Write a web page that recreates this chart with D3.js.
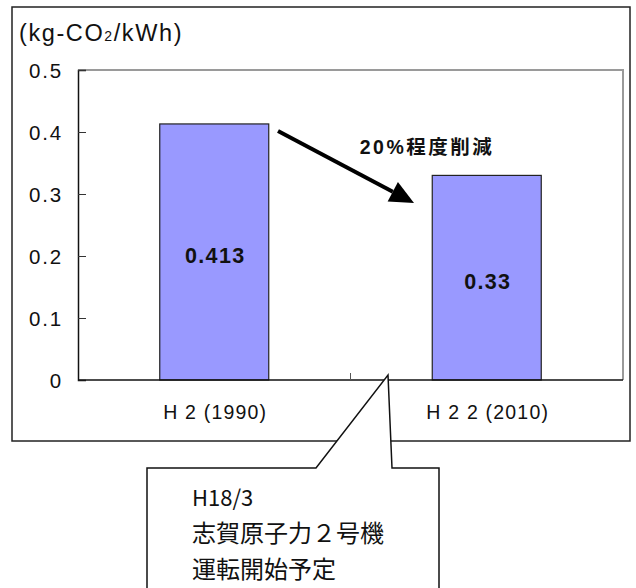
<!DOCTYPE html>
<html><head><meta charset="utf-8">
<script src="https://cdn.jsdelivr.net/npm/d3@7"></script>
<style>
html,body{margin:0;padding:0;background:#fff;}
svg{display:block;}
</style></head>
<body>
<svg id="c" width="636" height="588"></svg>
<script>
const categories = ["H 2 (1990)", "H 2 2 (2010)"];
const values = [0.413, 0.33];
const valueLabels = ["0.413", "0.33"];
const yTicks = [0, 0.1, 0.2, 0.3, 0.4, 0.5];
const yTickLabels = ["0", "0.1", "0.2", "0.3", "0.4", "0.5"];
const annotationText = "20%程度削減";
const calloutLines = ["H18/3", "志賀原子力２号機", "運転開始予定"];

const svg = d3.select("#c");
const L = 78, R = 623, T = 70, B = 380;
const latin = "'Liberation Sans', Arial, 'Noto Sans CJK JP', sans-serif";

// outer frame
svg.append("rect").attr("x", 12).attr("y", 7).attr("width", 618).attr("height", 434)
  .attr("fill", "#fff").attr("stroke", "#222").attr("stroke-width", 1.5);

// unit title
const title = svg.append("text").attr("x", 19).attr("y", 41)
  .attr("font-family", latin).attr("font-size", 23.5).attr("letter-spacing", 1.6).attr("fill", "#111");
title.append("tspan").text("(kg-CO");
title.append("tspan").attr("font-size", 14).text("2");
title.append("tspan").text("/kWh)");

const x = d3.scaleBand().domain(categories).range([L, R]).paddingInner(0.6).paddingOuter(0.3);
const xs = d3.scaleBand().domain(categories).range([L, R]);
const y = d3.scaleLinear().domain([0, 0.5]).range([B, T]);

// plot area border (gray top/right)
svg.append("path").attr("d", `M${L},${T}H${R}V${B}`).attr("fill", "none")
  .attr("stroke", "#9a9a9a").attr("stroke-width", 2);

// y axis
const yAxis = d3.axisLeft(y).tickValues(yTicks).tickSize(-8).tickPadding(14)
  .tickFormat((d, i) => yTickLabels[i]);
const gy = svg.append("g").attr("transform", `translate(${L},0)`).call(yAxis);
gy.select(".domain").attr("stroke", "#111").attr("stroke-width", 1.5);
gy.selectAll(".tick line").attr("stroke", "#333").attr("stroke-width", 1);
gy.selectAll(".tick text").attr("font-family", latin).attr("font-size", 20.5)
  .attr("letter-spacing", 1.8).attr("fill", "#111").attr("x", -15).attr("dy", "0.36em");

// bars
svg.selectAll("rect.bar").data(values).enter().append("rect").attr("class", "bar")
  .attr("x", (d, i) => x(categories[i])).attr("width", x.bandwidth())
  .attr("y", d => y(d)).attr("height", d => B - y(d))
  .attr("fill", "#9999ff").attr("stroke", "#222").attr("stroke-width", 1.2);

// x axis
const gx = svg.append("g").attr("transform", `translate(0,${B})`);
gx.append("line").attr("x1", L).attr("x2", R).attr("stroke", "#111").attr("stroke-width", 1.5);
gx.selectAll("line.sep").data(categories.slice(1)).enter().append("line").attr("class", "sep")
  .attr("x1", d => xs(d)).attr("x2", d => xs(d)).attr("y1", 0).attr("y2", -7)
  .attr("stroke", "#555").attr("stroke-width", 1);
gx.selectAll("text").data(categories).enter().append("text")
  .attr("x", d => xs(d) + xs.bandwidth() / 2 + 1).attr("y", 39)
  .attr("text-anchor", "middle").attr("font-family", latin).attr("font-size", 19.5)
  .attr("letter-spacing", 1.2).attr("fill", "#111").text(d => d);

// value labels
svg.selectAll("text.val").data(values).enter().append("text").attr("class", "val")
  .attr("x", (d, i) => x(categories[i]) + x.bandwidth() / 2 + 1)
  .attr("y", d => (y(d) + B) / 2 + 11)
  .attr("text-anchor", "middle").attr("font-family", latin).attr("font-weight", "bold")
  .attr("font-size", 21.5).attr("letter-spacing", 1.3).attr("fill", "#111")
  .text((d, i) => valueLabels[i]);

// arrow
const ax1 = 278, ay1 = 131, ax2 = 414, ay2 = 203;
const ang = Math.atan2(ay2 - ay1, ax2 - ax1);
const hl = 24, hw = 11;
const bx = ax2 - hl * Math.cos(ang), by = ay2 - hl * Math.sin(ang);
svg.append("line").attr("x1", ax1).attr("y1", ay1).attr("x2", bx).attr("y2", by)
  .attr("stroke", "#000").attr("stroke-width", 4);
svg.append("path").attr("d",
  `M${ax2},${ay2}L${bx + hw * Math.sin(ang)},${by - hw * Math.cos(ang)}L${bx - hw * Math.sin(ang)},${by + hw * Math.cos(ang)}Z`)
  .attr("fill", "#000");

svg.append("text").attr("x", 427).attr("y", 153.5).attr("text-anchor", "middle")
  .attr("font-family", latin).attr("font-weight", "bold").attr("font-size", 19.5)
  .attr("letter-spacing", 2.5).attr("fill", "#111").text(annotationText);

// callout
svg.append("path").attr("d", "M147,468H316L388,375L392,468H439V600H147Z")
  .attr("fill", "#fff").attr("stroke", "#111").attr("stroke-width", 1.5);
svg.selectAll("text.co").data(calloutLines).enter().append("text").attr("class", "co")
  .attr("x", 192).attr("y", (d, i) => 506 + i * 36)
  .attr("font-family", "'Noto Sans CJK JP', sans-serif").attr("font-size", (d, i) => i === 0 ? 22 : 24)
  .attr("fill", "#111").text(d => d);
</script>
</body></html>
